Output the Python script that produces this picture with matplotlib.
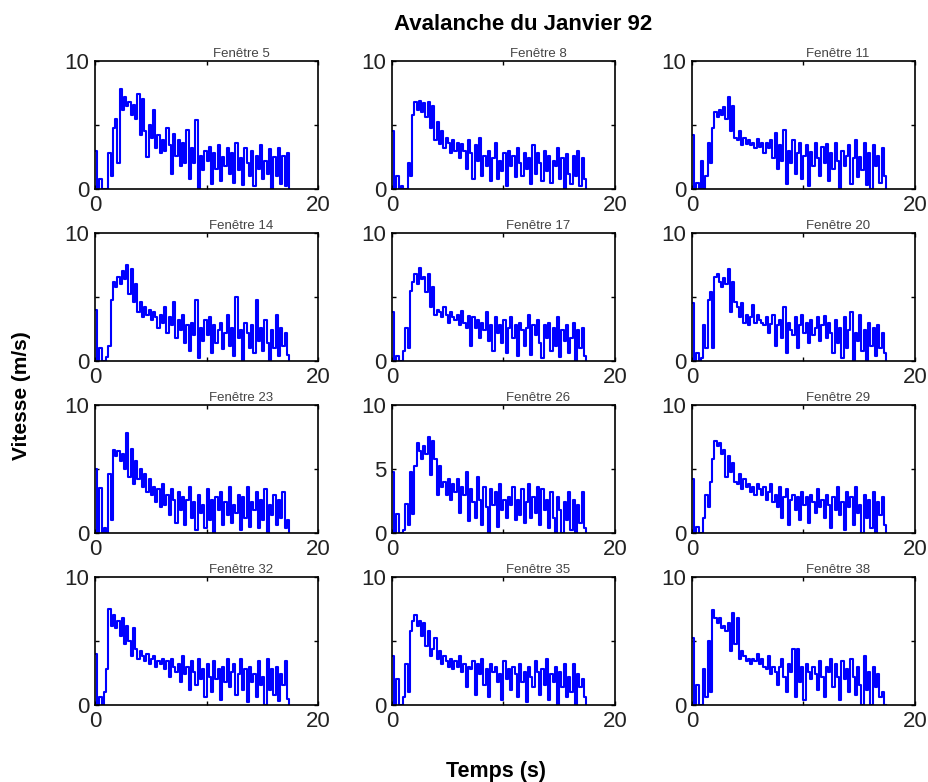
import numpy as np
import matplotlib
matplotlib.use("Agg")
import matplotlib.pyplot as plt

plt.rcParams['font.family'] = ['Liberation Sans', 'DejaVu Sans']

DT = 0.2  # seconds between samples

f5 = [3.0,0.0,0.8,0.0,0.0,0.0,2.8,1.0,4.8,5.5,
      2.0,7.8,6.2,7.2,6.5,6.8,5.8,6.6,5.5,7.4,
      4.2,7.0,4.5,2.5,5.0,4.0,6.2,3.2,4.2,2.8,
      3.8,3.0,4.8,3.4,1.2,4.3,2.6,3.8,1.8,3.6,
      2.0,4.6,0.8,3.2,2.0,5.4,0.0,2.6,1.5,3.0,
      2.2,3.3,0.4,2.8,1.6,3.4,0.6,2.5,1.8,3.2,
      1.2,2.8,0.5,3.6,1.5,2.4,0.3,3.2,2.0,1.0,
      3.0,0.2,2.6,1.6,3.4,0.8,2.2,1.2,3.1,0.0,
      2.5,1.0,3.2,0.4,2.6,0.2,2.8,0.0]
f8 = [4.5,0.0,1.0,0.0,0.2,0.0,0.0,2.0,1.0,5.8,
      6.8,6.2,6.9,6.0,6.7,5.6,6.8,4.8,6.5,3.8,
      5.2,3.5,4.5,3.2,4.0,3.6,2.8,3.8,3.0,3.6,
      2.4,3.5,3.0,1.6,3.8,2.8,0.8,3.4,2.2,4.0,
      1.0,2.6,1.8,3.0,0.6,2.4,3.6,0.8,2.2,1.4,
      2.8,0.2,3.0,1.8,2.6,0.9,3.2,2.0,1.0,2.8,
      1.6,2.4,0.4,3.4,1.2,2.8,2.0,0.6,3.0,1.4,
      2.6,0.5,2.2,1.8,3.2,0.8,2.4,0.0,2.7,1.2,
      0.4,2.6,1.0,3.0,0.2,2.4,0.8,0.0]
f11 = [4.2,0.0,0.5,0.0,2.2,0.0,1.0,3.6,2.0,4.8,
       6.0,5.6,6.2,5.8,6.4,5.5,7.2,4.5,6.5,4.0,
       3.8,4.5,3.4,4.0,3.5,3.8,3.4,3.6,3.2,3.9,
       3.3,3.6,2.8,3.6,3.2,3.8,2.4,4.4,1.6,3.4,
       2.2,4.6,0.4,3.0,2.0,3.8,1.2,2.8,3.6,0.8,
       2.6,3.4,0.2,2.9,1.8,3.6,2.4,1.0,3.3,2.0,
       3.5,0.6,2.8,1.6,3.6,2.2,0.0,3.0,1.8,2.6,
       3.4,0.4,2.4,3.8,0.9,2.5,1.5,3.6,0.3,2.8,
       0.0,3.4,1.8,2.6,0.5,3.2,1.0,0.0]
f14 = [4.0,0.0,1.0,0.0,0.0,0.3,1.2,4.8,6.2,5.8,
       6.6,6.0,7.0,6.4,7.5,5.2,7.2,4.6,6.0,3.8,
       4.6,3.4,4.2,3.6,4.0,3.2,3.8,3.4,2.6,3.6,
       3.0,4.2,2.2,3.4,2.8,4.6,1.8,3.2,2.4,3.6,
       1.4,2.8,0.8,3.0,2.0,4.8,0.2,2.6,1.6,3.2,
       2.0,3.4,0.6,2.8,1.4,2.4,3.0,0.9,2.2,3.6,
       1.2,2.6,0.4,5.0,1.8,2.4,0.0,3.0,2.2,1.0,
       2.8,0.6,4.8,1.6,2.6,0.8,3.2,1.4,0.0,2.4,
       1.0,3.6,0.4,2.6,1.2,2.2,0.5,0.0]
f17 = [3.8,0.0,0.4,0.0,0.0,0.8,2.6,1.0,5.5,6.2,
       6.8,6.0,7.3,6.4,6.6,5.4,6.8,4.2,5.8,3.6,
       4.0,3.8,3.4,4.2,3.6,3.0,3.8,3.4,3.2,3.6,
       2.8,3.9,3.0,2.6,3.5,1.2,3.4,2.6,3.2,1.8,
       3.0,2.4,3.8,1.6,2.8,0.8,3.4,2.2,2.8,1.4,
       3.2,0.6,2.6,3.4,1.8,2.8,0.4,3.0,2.4,1.2,
       2.6,3.6,0.5,2.8,2.0,3.2,1.4,0.2,2.8,1.8,
       3.0,0.8,2.6,1.2,3.4,0.3,2.4,1.6,2.8,0.6,
       1.8,3.0,0.0,2.4,1.0,2.6,0.4,0.0]
f20 = [4.5,0.0,0.6,0.0,0.2,2.8,1.0,4.8,5.4,1.0,
       6.6,6.8,6.2,5.8,6.5,6.0,7.2,3.8,6.2,4.6,
       4.2,3.4,4.5,3.0,3.6,2.8,3.4,4.4,3.0,3.6,
       3.2,3.0,2.8,3.4,2.2,2.9,3.6,1.2,2.8,3.2,
       1.8,4.2,0.6,3.0,2.4,2.0,3.4,1.0,2.8,3.6,
       2.2,3.0,1.4,3.2,2.0,2.6,3.4,1.6,2.8,3.5,
       1.8,3.0,2.2,0.6,3.2,1.4,2.6,0.2,3.4,1.0,
       2.4,3.8,0.0,2.2,1.6,3.6,0.8,2.4,0.0,3.0,
       1.2,2.6,0.4,2.8,1.0,2.2,0.6,0.0]
f23 = [5.0,0.0,3.5,0.0,0.4,0.0,4.6,1.0,6.5,6.0,
       6.4,5.6,6.2,5.0,7.8,4.4,6.6,3.8,5.6,4.2,
       5.0,3.6,4.6,3.2,4.2,3.0,3.6,2.4,3.4,2.0,
       3.8,2.2,3.0,1.4,3.4,2.6,0.8,3.2,1.8,2.8,
       0.6,2.6,3.6,1.2,2.4,0.2,3.0,1.6,2.2,0.4,
       3.4,1.0,2.6,0.0,2.8,1.8,3.2,0.6,2.4,1.4,
       3.6,0.8,2.2,1.6,3.0,0.2,2.8,1.2,3.6,0.5,
       2.4,1.8,3.2,0.4,2.6,1.0,3.4,0.0,2.2,1.4,
       3.0,0.6,2.6,1.2,3.2,0.4,1.0,0.0]
f26 = [4.8,0.0,1.5,0.0,0.0,0.2,2.3,0.6,4.8,1.5,
       5.2,7.0,6.4,5.8,6.8,6.2,7.5,4.5,7.2,5.8,
       3.0,5.2,3.6,4.0,3.0,4.2,2.6,3.8,3.2,4.2,
       1.6,3.6,3.0,4.8,0.9,3.4,2.4,1.2,4.4,2.6,
       0.6,3.6,2.0,0.0,3.4,2.2,3.2,0.5,3.8,1.8,
       2.6,1.2,2.8,2.2,3.6,1.0,2.6,1.4,3.4,0.8,
       2.4,3.8,1.2,2.8,1.6,3.6,0.6,3.4,1.8,2.6,
       0.4,3.2,1.2,0.0,2.8,1.8,0.0,2.4,1.0,3.2,
       0.2,2.6,0.0,2.2,0.8,3.2,0.4,0.0]
f29 = [4.2,0.0,0.5,0.0,0.0,1.2,3.0,2.0,4.0,5.8,
       7.2,6.8,7.0,6.2,6.5,4.4,6.0,4.8,5.5,4.0,
       3.8,4.6,3.4,4.2,3.6,3.8,3.2,3.6,3.0,3.8,
       3.4,3.0,3.6,2.6,3.2,3.8,2.4,3.0,2.0,3.6,
       1.2,2.8,3.4,0.6,2.6,3.0,1.8,2.8,1.0,3.2,
       2.2,2.8,0.8,3.0,2.4,1.6,3.4,2.0,2.6,1.2,
       3.0,2.2,0.4,2.8,1.8,3.6,1.4,2.4,0.2,3.2,
       2.0,2.8,0.6,3.6,1.6,2.2,0.0,3.0,1.2,2.6,
       0.4,3.2,0.0,2.4,1.4,2.8,0.6,0.0]
f32 = [4.0,0.0,0.6,0.0,1.0,2.8,7.5,6.2,7.0,6.0,
       6.6,5.4,6.8,4.8,6.2,5.0,3.8,6.0,4.4,3.6,
       4.2,3.8,3.4,4.0,3.2,3.6,3.8,3.0,3.4,3.2,
       3.6,2.8,3.4,2.2,3.6,3.0,2.6,3.2,1.8,3.8,
       2.4,3.0,1.2,3.4,2.6,1.6,3.6,2.0,2.8,0.6,
       3.2,2.2,1.0,3.4,2.0,2.8,0.4,3.0,1.8,3.6,
       1.4,2.6,3.2,0.8,2.4,3.6,1.2,2.8,0.2,3.0,
       1.8,2.4,0.6,3.4,1.6,2.2,0.0,3.6,1.2,2.8,
       0.8,3.0,0.3,2.4,1.6,3.4,0.5,0.0]
f35 = [3.8,0.0,2.0,0.0,0.0,0.6,3.2,1.0,5.8,6.6,
       7.0,6.2,6.6,5.4,6.4,4.6,5.8,3.8,4.4,5.2,
       3.6,4.2,3.2,3.8,3.4,3.0,3.6,2.8,3.4,3.0,
       3.8,2.6,3.2,1.4,3.0,2.8,3.4,0.8,3.2,2.4,
       3.6,1.6,2.8,0.6,3.2,2.6,3.0,1.8,2.4,0.4,
       3.4,2.0,2.8,1.2,3.0,2.4,0.6,3.2,1.8,2.6,
       0.2,3.0,2.2,1.4,3.4,2.6,0.8,2.8,1.6,3.6,
       0.4,2.4,1.8,3.0,0.0,2.6,1.4,3.2,0.6,2.2,
       1.0,3.2,0.0,2.4,1.4,2.0,0.6,0.0]
f38 = [5.2,0.0,1.6,0.0,0.0,2.8,0.6,5.0,1.0,7.4,
       6.8,6.4,6.8,6.0,6.2,5.8,6.4,4.2,7.2,4.8,
       6.8,3.6,4.2,3.8,3.4,3.6,3.2,3.6,3.4,4.0,
       3.2,3.6,3.0,2.8,3.8,2.4,3.0,2.6,1.6,3.0,
       3.6,2.2,1.0,3.2,2.6,4.4,0.6,4.4,1.8,3.0,
       0.4,3.2,2.6,2.0,3.0,2.4,1.2,3.4,2.2,0.6,
       3.0,2.6,3.6,1.4,3.2,2.2,0.4,3.4,2.0,2.8,
       1.0,3.6,2.2,0.8,3.0,1.6,0.0,3.8,1.2,2.6,
       0.0,3.0,1.4,2.4,0.6,1.0,0.0,0.0]

titles = ["Fenêtre 5", "Fenêtre 8", "Fenêtre 11",
          "Fenêtre 14", "Fenêtre 17", "Fenêtre 20",
          "Fenêtre 23", "Fenêtre 26", "Fenêtre 29",
          "Fenêtre 32", "Fenêtre 35", "Fenêtre 38"]
series = [f5, f8, f11, f14, f17, f20, f23, f26, f29, f32, f35, f38]

W, H = 929, 782
fig = plt.figure(figsize=(W / 100, H / 100), dpi=100)

col_left = [95, 392, 692]
ax_w = 223
row_top = [61, 233, 405, 577]
ax_h = 128

for i, (ttl, v) in enumerate(zip(titles, series)):
    r, c = divmod(i, 3)
    x0 = col_left[c] / W
    y0 = 1 - (row_top[r] + ax_h) / H
    ax = fig.add_axes([x0, y0, ax_w / W, ax_h / H])
    v = np.asarray(v)
    t = np.arange(len(v)) * DT
    ax.step(t, v, where='post', color='#0000ff', lw=1.5)
    ax.set_xlim(0, 20)
    ax.set_ylim(0, 10)
    ax.set_xticks([0, 10, 20], labels=['0', '', '20'])
    if ttl == "Fenêtre 26":
        ax.set_yticks([0, 5, 10], labels=['0', '5', '10'])
    else:
        ax.set_yticks([0, 5, 10], labels=['0', '', '10'])
    ax.tick_params(direction='in', length=3, width=1, top=True, right=True,
                   labelsize=16, pad=4, colors='black', labelcolor='#222222')
    for s in ax.spines.values():
        s.set_linewidth(1.2)
    ax.text(0.655, 1.01, ttl, transform=ax.transAxes, ha='center', va='bottom',
            fontsize=9.5, color='#444444')

fig.text(0.5635, 1 - 24 / H, "Avalanche du Janvier 92", ha='center', va='center',
         fontsize=16, fontweight='bold')
fig.text(22 / W, 1 - 396 / H, "Vitesse (m/s)", ha='center', va='center',
         rotation=90, fontsize=15, fontweight='bold')
fig.text(496 / W, 1 - 771 / H, "Temps (s)", ha='center', va='center',
         fontsize=15.5, fontweight='bold')

fig.savefig("out.png", dpi=100)
